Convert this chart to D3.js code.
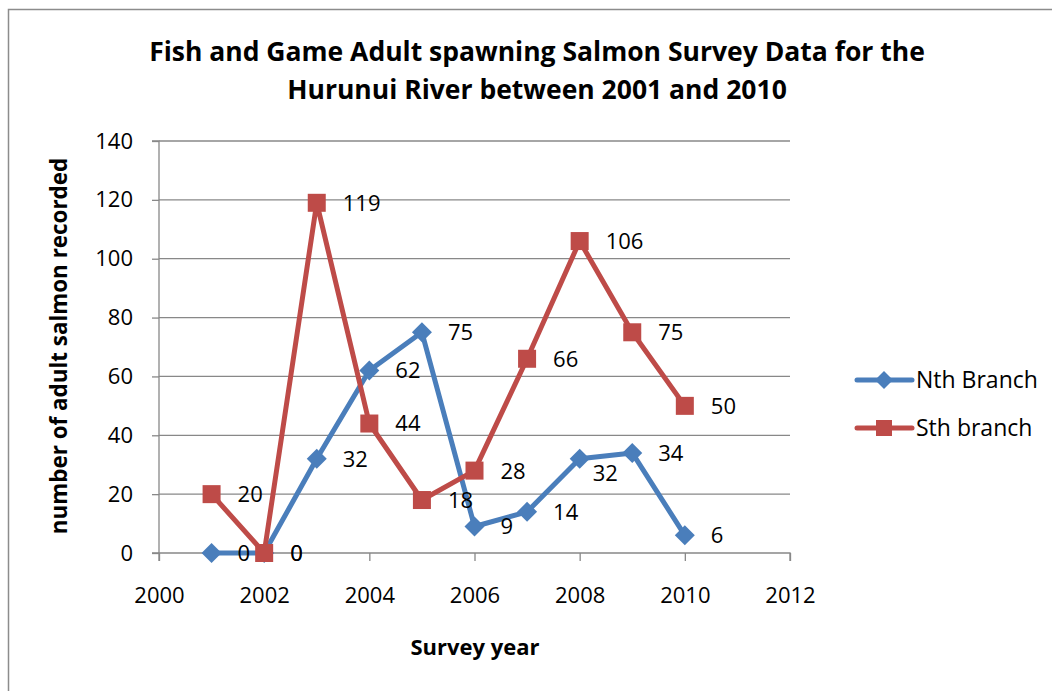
<!DOCTYPE html>
<html><head><meta charset="utf-8">
<script src="https://cdn.jsdelivr.net/npm/d3@7"></script>
<style>
html,body{margin:0;padding:0;background:#fff;}
svg{display:block;}
text{font-family:"Open Sans","Liberation Sans",sans-serif;fill:#000;}
</style></head>
<body>
<script>
const years = [2001,2002,2003,2004,2005,2006,2007,2008,2009,2010];
const nthBranch = [0,0,32,62,75,9,14,32,34,6];
const sthBranch = [20,0,119,44,18,28,66,106,75,50];
const seriesNames = ["Nth Branch","Sth branch"];
const xTicks = [2000,2002,2004,2006,2008,2010,2012];
const yTicks = [0,20,40,60,80,100,120,140];
const titleLines = ["Fish and Game Adult spawning Salmon Survey Data for the","Hurunui River between 2001 and 2010"];

const W = 1052, H = 691;
const svg = d3.select("body").append("svg").attr("width",W).attr("height",H);

// chart border
svg.append("rect").attr("x",8.5).attr("y",9.5).attr("width",W+20).attr("height",H+20)
  .attr("fill","none").attr("stroke","#8c8c8c").attr("stroke-width",1.5);

const x = d3.scaleLinear().domain([2000,2012]).range([159,790]);
const y = d3.scaleLinear().domain([0,140]).range([553,141]);
const gridColor = "#888";

// gridlines
svg.append("g").selectAll("line").data(yTicks.filter(d=>d>0)).join("line")
  .attr("x1",x(2000)).attr("x2",x(2012)).attr("y1",d=>y(d)).attr("y2",d=>y(d))
  .attr("stroke",gridColor).attr("stroke-width",1.3);

// axes
const xAxis = d3.axisBottom(x).tickValues(xTicks).tickFormat(d3.format("d")).tickSize(8).tickPadding(26);
const gx = svg.append("g").attr("transform",`translate(0,${y(0)})`).call(xAxis);
const yAxis = d3.axisLeft(y).tickValues(yTicks).tickSize(7).tickPadding(19);
const gy = svg.append("g").attr("transform",`translate(${x(2000)},0)`).call(yAxis);
[gx,gy].forEach(g=>{
  g.select(".domain").attr("stroke",gridColor).attr("stroke-width",1.3);
  g.selectAll(".tick line").attr("stroke",gridColor).attr("stroke-width",1.3);
  g.selectAll(".tick text").attr("font-family","Open Sans").attr("font-size",22).attr("fill","#000");
});
gx.select(".domain").attr("d",`M${x(2000)},8V0H${x(2012)}V8`);
gy.select(".domain").attr("d",`M-7,${y(140)}H0V${y(0)}H-7`);

// series
const colors = ["#4a7ebb","#be4b48"];
const seriesData = [nthBranch, sthBranch];
const line = d3.line().x((d,i)=>x(years[i])).y(d=>y(d));
seriesData.forEach((s,k)=>{
  svg.append("path").datum(s).attr("d",line).attr("fill","none")
    .attr("stroke",colors[k]).attr("stroke-width",5).attr("stroke-linejoin","round");
  const g = svg.append("g");
  if(k===0){
    g.selectAll("path").data(s).join("path")
      .attr("d",(d,i)=>{const cx=x(years[i]),cy=y(d),r=10;return `M${cx},${cy-r}L${cx+r},${cy}L${cx},${cy+r}L${cx-r},${cy}Z`;})
      .attr("fill",colors[k]);
  } else {
    g.selectAll("rect").data(s).join("rect")
      .attr("x",(d,i)=>x(years[i])-9).attr("y",d=>y(d)-9).attr("width",18).attr("height",18)
      .attr("fill",colors[k]);
  }
});

// data labels
seriesData.forEach((s,k)=>{
  svg.append("g").selectAll("text").data(s).join("text")
    .attr("x",(d,i)=>x(years[i]) + 26 + ((k===0 && years[i]===2008)?-13:0))
    .attr("y",(d,i)=>y(d) + ((k===0 && years[i]===2008)?14:0))
    .attr("dy","0.36em")
    .attr("font-size",22)
    .text(d=>d);
});

// title
svg.append("g").selectAll("text").data(titleLines).join("text")
  .attr("x",537).attr("y",(d,i)=>61+i*38).attr("text-anchor","middle")
  .attr("font-weight","bold").attr("font-size",26.5).text(d=>d);

// axis titles
svg.append("text").attr("x",475).attr("y",655).attr("text-anchor","middle")
  .attr("font-weight","bold").attr("font-size",22).text("Survey year");
svg.append("text").attr("transform","translate(67,346) rotate(-90)").attr("text-anchor","middle")
  .attr("font-weight","bold").attr("font-size",22.4).text("number of adult salmon recorded");

// legend
const legY = [380,428];
seriesNames.forEach((n,k)=>{
  const g = svg.append("g");
  g.append("line").attr("x1",857).attr("x2",912).attr("y1",legY[k]).attr("y2",legY[k])
    .attr("stroke",colors[k]).attr("stroke-width",5).attr("stroke-linecap","round");
  if(k===0){
    g.append("path").attr("d",`M884,${legY[k]-9}L893,${legY[k]}L884,${legY[k]+9}L875,${legY[k]}Z`).attr("fill",colors[k]);
  } else {
    g.append("rect").attr("x",876).attr("y",legY[k]-8).attr("width",16).attr("height",16).attr("fill",colors[k]);
  }
  g.append("text").attr("x",916).attr("y",legY[k]).attr("dy","0.36em").attr("font-size",23).text(n);
});
</script>
</body></html>
